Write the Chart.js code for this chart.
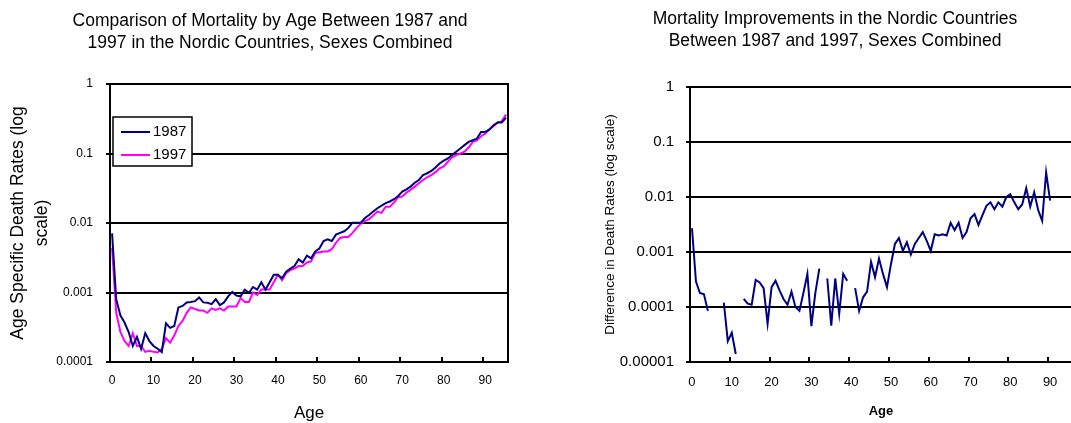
<!DOCTYPE html>
<html lang="en">
<head>
<meta charset="utf-8">
<title>Nordic mortality 1987 / 1997</title>
<script src="https://cdn.jsdelivr.net/npm/chart.js@4.4.1/dist/chart.umd.min.js"></script>
<style>
  html, body { margin: 0; padding: 0; background: #fff; overflow: hidden; }
  body { position: relative; width: 1071px; height: 423px; }
  .panel { position: absolute; top: 0; height: 423px; }
  #panel-rates { left: 0; width: 540px; }
  #panel-diff { left: 580px; width: 510px; }
</style>
</head>
<body>
<div class="panel" id="panel-rates"><canvas id="chart-rates" width="540" height="423"></canvas></div>
<div class="panel" id="panel-diff"><canvas id="chart-diff" width="510" height="423"></canvas></div>
<script>
(function () {
  'use strict';

  // Single-year ages, both panels share the same category axis.
  const AGES = [
    0, 1, 2, 3, 4, 5, 6, 7, 8, 9, 10, 11, 12, 13, 14, 15, 16, 17, 18, 19,
    20, 21, 22, 23, 24, 25, 26, 27, 28, 29, 30, 31, 32, 33, 34, 35, 36, 37, 38, 39,
    40, 41, 42, 43, 44, 45, 46, 47, 48, 49, 50, 51, 52, 53, 54, 55, 56, 57, 58, 59,
    60, 61, 62, 63, 64, 65, 66, 67, 68, 69, 70, 71, 72, 73, 74, 75, 76, 77, 78, 79,
    80, 81, 82, 83, 84, 85, 86, 87, 88, 89, 90, 91, 92, 93, 94, 95,
  ];

  // Age specific death rates, sexes combined.
  const RATES_1987 = [
    0.0071, 0.0008, 0.00047, 0.00037, 0.00027, 0.00017, 0.00023, 0.000155, 0.00026, 0.0002,
    0.00017, 0.000155, 0.000139, 0.00036, 0.00031, 0.00033, 0.00061, 0.00064, 0.00072, 0.00073,
    0.00075, 0.00085, 0.00072, 0.00071, 0.00068, 0.0008, 0.00066, 0.00072, 0.00088, 0.00102,
    0.0009, 0.00088, 0.0011, 0.00099, 0.0012, 0.0011, 0.0014, 0.0011, 0.0014, 0.0018,
    0.0018, 0.0016, 0.002, 0.0022, 0.0024, 0.003, 0.0027, 0.0034, 0.0031, 0.0039,
    0.0043, 0.0055, 0.0058, 0.0055, 0.0068, 0.0072, 0.0076, 0.0085, 0.0101, 0.0101,
    0.0101, 0.0118, 0.013, 0.0146, 0.0163, 0.0178, 0.0193, 0.0204, 0.022, 0.0245,
    0.0283, 0.0305, 0.0334, 0.038, 0.0416, 0.049, 0.052, 0.056, 0.063, 0.072,
    0.079, 0.085, 0.095, 0.106, 0.118, 0.132, 0.147, 0.155, 0.164, 0.204,
    0.204, 0.22, 0.254, 0.28, 0.28, 0.327,
  ];

  const RATES_1997 = [
    0.0044, 0.00051, 0.00027, 0.0002, 0.00017, 0.00026, 0.00017, 0.00017, 0.00014, 0.000145,
    0.00014, 0.000137, 0.000155, 0.00022, 0.00019, 0.00024, 0.00033, 0.00039, 0.00051, 0.00061,
    0.00058, 0.00055, 0.00055, 0.00051, 0.00059, 0.00056, 0.00059, 0.00055, 0.00063, 0.00063,
    0.00063, 0.00083, 0.00073, 0.00073, 0.001, 0.00092, 0.0011, 0.0011, 0.0011, 0.0014,
    0.0018, 0.0015, 0.0019, 0.0021, 0.0022, 0.0024, 0.0024, 0.0027, 0.0028, 0.0037,
    0.0038, 0.0039, 0.0039, 0.0042, 0.0052, 0.0061, 0.0063, 0.0063, 0.0072, 0.0085,
    0.0098, 0.0106, 0.0114, 0.0128, 0.0146, 0.014, 0.0172, 0.0172, 0.0197, 0.0235,
    0.024, 0.0274, 0.03, 0.0334, 0.0373, 0.0416, 0.0455, 0.049, 0.054, 0.061,
    0.065, 0.076, 0.088, 0.095, 0.1, 0.106, 0.122, 0.147, 0.155, 0.177,
    0.193, 0.223, 0.246, 0.28, 0.29, 0.364,
  ];

  // 1987 minus 1997; null where the rate did not improve (no point on a log axis).
  const IMPROVEMENT = [
    0.0027, 0.00029, 0.00018, 0.00017, 0.000085, null, null, null, 0.00012, 0.000024,
    0.000034, 0.000014, null, 0.00014, 0.000115, 0.00011, 0.00031, 0.00028, 0.00022, 0.00005,
    0.00023, 0.0003, 0.0002, 0.00014, 0.00011, 0.00019, 0.0001, 0.000085, 0.00018, 0.0004,
    0.000045, 0.00018, 0.0005, null, 0.00033, 0.000046, 0.00033, 0.000075, 0.0004, 0.0003,
    null, 0.00022, 0.000085, 0.00015, 0.00019, 0.00066, 0.00035, 0.00076, 0.0004, 0.00023,
    0.0006, 0.0014, 0.0018, 0.00105, 0.0015, 0.0009, 0.0014, 0.0018, 0.0023, 0.0016,
    0.00105, 0.0021, 0.002, 0.0021, 0.002, 0.0034, 0.0025, 0.0034, 0.0018, 0.0023,
    0.0041, 0.0049, 0.0031, 0.0047, 0.0069, 0.008, 0.006, 0.008, 0.0067, 0.01,
    0.0112, 0.008, 0.006, 0.0074, 0.0145, 0.0067, 0.0122, 0.0058, 0.0037, 0.0279,
    0.0086, null, null, null, null, null,
  ];

  const AGE_TICKS = [0, 10, 20, 30, 40, 50, 60, 70, 80, 90];
  const RATE_TICKS = [0.0001, 0.001, 0.01, 0.1, 1];
  const RATE_TICK_LABELS = ['0.0001', '0.001', '0.01', '0.1', '1'];
  const DIFF_TICKS = [0.00001, 0.0001, 0.001, 0.01, 0.1, 1];
  const DIFF_TICK_LABELS = ['0.00001', '0.0001', '0.001', '0.01', '0.1', '1'];

  const INK = '#000000';
  const NAVY = '#000080';
  const MAGENTA = '#ff00ff';
  const FONT = '"Liberation Sans", Arial, Helvetica, sans-serif';

  Chart.defaults.font.family = FONT;
  Chart.defaults.color = INK;
  Chart.defaults.animation = false;

  function series(values) {
    return AGES.map((age, i) => ({ x: age, y: values[i] }));
  }

  // Closes the plot box and puts the x tick marks inside it, between
  // categories, the way the spreadsheet original does.
  const framePlugin = {
    id: 'frame',
    afterDatasetsDraw(chart) {
      const { ctx, chartArea } = chart;
      const x = chart.scales.x;
      ctx.save();
      ctx.strokeStyle = INK;
      ctx.lineWidth = 2;
      ctx.strokeRect(chartArea.left, chartArea.top, chartArea.width, chartArea.height);
      ctx.beginPath();
      x.ticks.forEach((tick) => {
        if (tick.value === 0) return;
        const px = Math.round(x.getPixelForValue(tick.value - 0.5));
        ctx.moveTo(px, chartArea.bottom);
        ctx.lineTo(px, chartArea.bottom - 5);
      });
      ctx.stroke();
      ctx.restore();
    },
  };

  // Boxed legend inside the plot, top left.
  const boxLegendPlugin = {
    id: 'boxLegend',
    afterDraw(chart) {
      const { ctx, chartArea } = chart;
      const left = chartArea.left + 3;
      const top = chartArea.top + 33;
      ctx.save();
      ctx.fillStyle = '#ffffff';
      ctx.fillRect(left, top, 79, 49);
      ctx.strokeStyle = INK;
      ctx.lineWidth = 1.5;
      ctx.strokeRect(left, top, 79, 49);
      ctx.font = '15px ' + FONT;
      ctx.textBaseline = 'middle';
      chart.data.datasets.forEach((ds, i) => {
        const cy = top + 15 + i * 23;
        ctx.strokeStyle = ds.borderColor;
        ctx.lineWidth = 2;
        ctx.beginPath();
        ctx.moveTo(left + 8, cy);
        ctx.lineTo(left + 37, cy);
        ctx.stroke();
        ctx.fillStyle = INK;
        ctx.fillText(ds.label, left + 40, cy);
      });
      ctx.restore();
    },
  };

  function ageAxis(tickSize, tickPadding, title) {
    return {
      type: 'linear',
      min: -0.5,
      max: 95.5,
      afterBuildTicks: (scale) => {
        scale.ticks = AGE_TICKS.map((value) => ({ value }));
      },
      afterFit: (scale) => {
        scale.height = 61;
      },
      grid: { drawOnChartArea: false, drawTicks: false },
      border: { color: INK, width: 2 },
      ticks: {
        padding: tickPadding,
        maxRotation: 0,
        font: { size: tickSize },
        callback: (value) => String(value),
      },
      title: title,
    };
  }

  function logAxis(ticks, labels, tickSize, tickPadding, title) {
    return {
      type: 'logarithmic',
      min: ticks[0],
      max: ticks[ticks.length - 1],
      afterBuildTicks: (scale) => {
        scale.ticks = ticks.map((value) => ({ value }));
      },
      afterFit: (scale) => {
        scale.width = 110;
      },
      grid: { color: INK, lineWidth: 2, tickLength: 4 },
      border: { color: INK, width: 2 },
      ticks: {
        padding: tickPadding,
        font: { size: tickSize },
        callback: (value, index) => labels[index],
      },
      title: title,
    };
  }

  // Empty right-hand gutter: keeps the plot narrower while the full-width
  // title stays centred on the whole panel.
  function gutter(width) {
    return {
      type: 'linear',
      position: 'right',
      afterFit: (scale) => {
        scale.width = width;
      },
      grid: { display: false },
      border: { display: false },
      ticks: { display: false },
    };
  }

  new Chart(document.getElementById('chart-rates'), {
    type: 'line',
    data: {
      datasets: [
        { label: '1987', data: series(RATES_1987), borderColor: NAVY, borderWidth: 2, pointRadius: 0 },
        { label: '1997', data: series(RATES_1997), borderColor: MAGENTA, borderWidth: 2, pointRadius: 0 },
      ],
    },
    options: {
      responsive: false,
      layout: { padding: 0 },
      plugins: {
        legend: { display: false },
        tooltip: { enabled: false },
        title: {
          display: true,
          text: [
            'Comparison of Mortality by Age Between 1987 and',
            '1997 in the Nordic Countries, Sexes Combined',
          ],
          color: INK,
          font: { size: 17.5, weight: 'normal', lineHeight: '22px' },
          padding: { top: 10, bottom: 30 },
        },
      },
      scales: {
        x: ageAxis(12, 11, {
          display: true,
          text: 'Age',
          font: { size: 17, lineHeight: 1.1 },
          padding: { top: 0, bottom: 0 },
        }),
        y: logAxis(RATE_TICKS, RATE_TICK_LABELS, 12, 13, {
          display: true,
          text: ['Age Specific Death Rates (log', 'scale)'],
          font: { size: 17.5, lineHeight: '24px' },
          padding: { top: 6, bottom: 0 },
        }),
        gutter: gutter(32),
      },
    },
    plugins: [framePlugin, boxLegendPlugin],
  });

  new Chart(document.getElementById('chart-diff'), {
    type: 'line',
    data: {
      datasets: [
        { label: 'Improvement', data: series(IMPROVEMENT), borderColor: NAVY, borderWidth: 2, pointRadius: 0, spanGaps: false },
      ],
    },
    options: {
      responsive: false,
      layout: { padding: 0 },
      plugins: {
        legend: { display: false },
        tooltip: { enabled: false },
        title: {
          display: true,
          text: [
            'Mortality Improvements in the Nordic Countries',
            'Between 1987 and 1997, Sexes Combined',
          ],
          color: INK,
          font: { size: 17.5, weight: 'normal', lineHeight: '22px' },
          padding: { top: 8, bottom: 35 },
        },
      },
      scales: {
        x: ageAxis(13, 13, {
          display: true,
          text: 'Age',
          font: { size: 13, weight: 'bold' },
          padding: { top: 0, bottom: 3.7 },
        }),
        y: logAxis(DIFF_TICKS, DIFF_TICK_LABELS, 15, 12, {
          display: true,
          text: 'Difference in Death Rates (log scale)',
          font: { size: 13.5 },
          padding: { top: 22, bottom: 0 },
        }),
        gutter: gutter(18),
      },
    },
    plugins: [framePlugin],
  });
})();
</script>
</body>
</html>
